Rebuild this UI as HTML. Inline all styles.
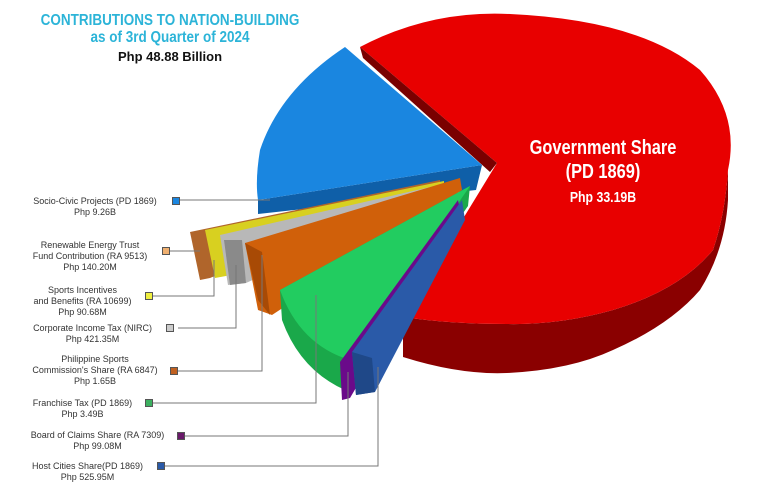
<!DOCTYPE html>
<html><head><style>
body{margin:0;width:768px;height:501px;background:#fff;overflow:hidden;font-family:"Liberation Sans",sans-serif}
.t{position:absolute;text-align:center;font-size:9px;color:#333;line-height:11px}
.sq{position:absolute;width:6px;height:6px;border:1px solid #555}
</style></head><body>
<div style="position:absolute;left:-20px;top:12px;width:380px;white-space:nowrap;text-align:center;font-weight:bold;color:#2cb4d8;font-size:15.5px;line-height:17px;transform:scaleX(0.87)">CONTRIBUTIONS TO NATION-BUILDING<br>as of 3rd Quarter of 2024</div>
<div style="position:absolute;left:40px;top:49px;width:260px;text-align:center;font-weight:bold;color:#111;font-size:13px">Php 48.88 Billion</div>
<svg width="768" height="501" style="position:absolute;left:0;top:0">
<path d="M403,317 L403,357 Q460,375 507,373 Q570,370 613,350 Q670,325 700,290 Q725,250 728,200 L728,170 Q725,215 713,250 Q680,290 613,310 Q560,325 507,324 Q450,324 403,317Z" fill="#8a0000"/>
<path d="M360,47 Q430,10 510,14 Q640,20 700,70 Q740,115 728,170 Q725,215 713,250 Q680,290 613,310 Q560,325 507,324 Q450,324 403,317 L497,163 Z" fill="#e80000"/>
<path d="M360,47 L497,163 L490,172 L363,58Z" fill="#7a0000"/>
<path d="M258,200 L258,214 L476,190 L482,165Z" fill="#0f5fa8"/>
<path d="M345,47 Q280,90 260,150 Q255,180 258,200 L482,165 Z" fill="#1a86e0"/>
<path d="M190,232 L200,280 L210,278 L440,185 L440,180 Z" fill="#b0652b"/>
<path d="M205,230 L215,278 L226,276 L444,186 L444,181 Z" fill="#d8d020"/>
<path d="M220,235 L228,285 L246,283 L450,190 L452,182 Z" fill="#b8b8b8"/>
<path d="M224,240 L230,285 L246,283 L242,240Z" fill="#8a8a8a"/>
<path d="M245,243 L258,310 L272,315 L462,190 L460,178 Z" fill="#d0600a"/>
<path d="M245,243 L258,300 L270,315 L262,252 Z" fill="#a84a05"/>
<path d="M280,290 L282,320 Q300,370 345,390 L352,372 L468,206 L470,186 Z" fill="#1aa84a"/>
<path d="M280,290 Q300,345 350,360 L470,186 Z" fill="#22cc60"/>
<path d="M340,362 L342,400 L350,398 L460,210 L458,200 Z" fill="#6a0a8a"/>
<path d="M352,352 L356,395 L375,392 L465,220 L462,200 Z" fill="#2a5aa8"/>
<path d="M352,352 L356,395 L375,392 L372,358 Z" fill="#1f4888"/>
<g stroke="#777" stroke-width="1" fill="none">
<line x1="180" y1="200" x2="270" y2="200"/>
<polyline points="170,251 200,251"/>
<polyline points="152,296 214,296 214,260"/>
<polyline points="178,328 236,328 236,265"/>
<polyline points="178,371 262,371 262,255"/>
<polyline points="152,403 316,403 316,295"/>
<polyline points="185,436 348,436 348,372"/>
<polyline points="165,466 378,466 378,367"/>
</g>
</svg>
<div style="position:absolute;left:503px;top:136px;width:200px;text-align:center;color:#fff;font-weight:bold;font-size:20px;line-height:24px;transform:scaleX(0.82)">Government Share<br>(PD 1869)<br><span style="font-size:15px">Php 33.19B</span></div>
<div class="t" style="left:20px;top:196px;width:150px">Socio-Civic Projects (PD 1869)<br>Php 9.26B</div><div class="sq" style="left:172px;top:197px;background:#1a86e0"></div>
<div class="t" style="left:20px;top:240px;width:140px">Renewable Energy Trust<br>Fund Contribution (RA 9513)<br>Php 140.20M</div><div class="sq" style="left:162px;top:247px;background:#f0b070"></div>
<div class="t" style="left:20px;top:285px;width:125px">Sports Incentives<br>and Benefits (RA 10699)<br>Php 90.68M</div><div class="sq" style="left:145px;top:292px;background:#f0f040"></div>
<div class="t" style="left:20px;top:323px;width:145px">Corporate Income Tax (NIRC)<br>Php 421.35M</div><div class="sq" style="left:166px;top:324px;background:#ccc"></div>
<div class="t" style="left:20px;top:354px;width:150px">Philippine Sports<br>Commission's Share (RA 6847)<br>Php 1.65B</div><div class="sq" style="left:170px;top:367px;background:#c06020"></div>
<div class="t" style="left:20px;top:398px;width:125px">Franchise Tax (PD 1869)<br>Php 3.49B</div><div class="sq" style="left:145px;top:399px;background:#3cb060"></div>
<div class="t" style="left:20px;top:430px;width:155px">Board of Claims Share (RA 7309)<br>Php 99.08M</div><div class="sq" style="left:177px;top:432px;background:#6a1a6a"></div>
<div class="t" style="left:20px;top:461px;width:135px">Host Cities Share(PD 1869)<br>Php 525.95M</div><div class="sq" style="left:157px;top:462px;background:#2a5aa8"></div>
</body></html>
